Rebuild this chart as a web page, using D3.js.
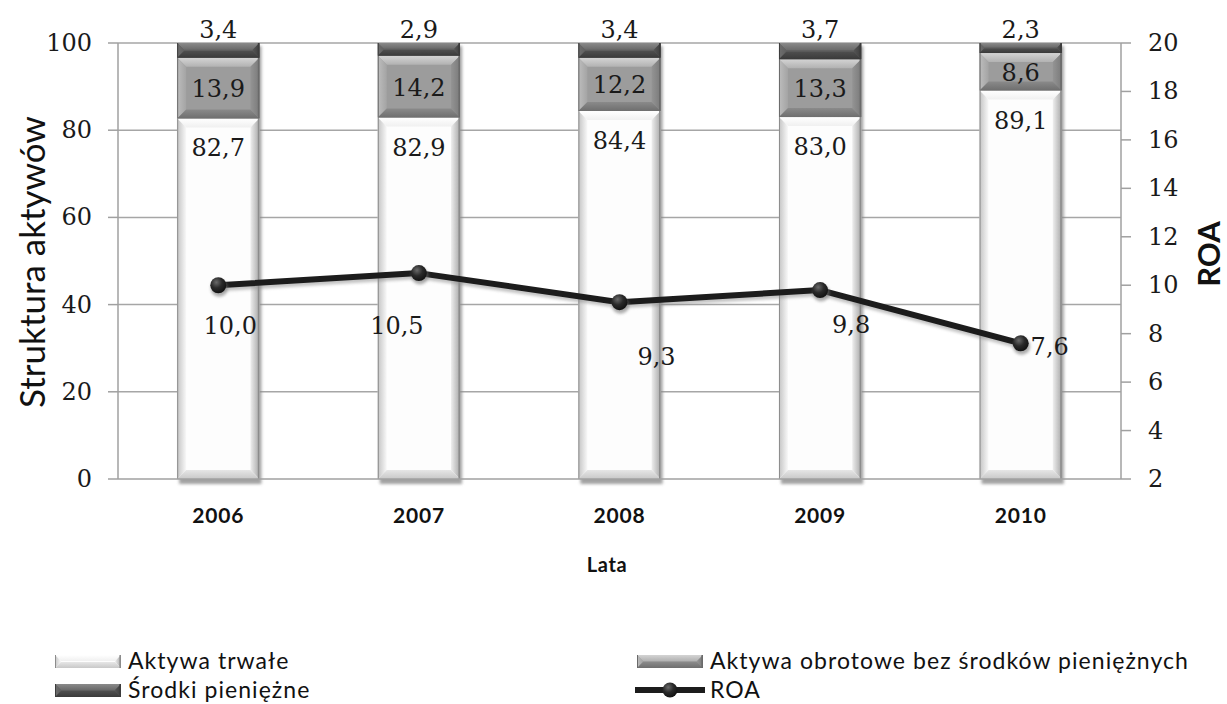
<!DOCTYPE html>
<html>
<head>
<meta charset="utf-8">
<script src="https://cdn.jsdelivr.net/npm/d3@7/dist/d3.min.js"></script>
<style>
  html, body { margin: 0; padding: 0; background: #fff; }
  svg { display: block; }
  .sans { font-family: Lato, "Open Sans", sans-serif; fill: #111; }
  .serif { font-family: "DejaVu Serif", serif; fill: #1a1a1a; }
</style>
</head>
<body>
<svg id="chart" width="1227" height="704"></svg>
<script>
// Asset structure (% of total) and ROA by year
const years = ["2006", "2007", "2008", "2009", "2010"];
const aktywaTrwale = [82.7, 82.9, 84.4, 83.0, 89.1];
const aktywaObrotowe = [13.9, 14.2, 12.2, 13.3, 8.6];
const srodkiPieniezne = [3.4, 2.9, 3.4, 3.7, 2.3];
const roa = [10.0, 10.5, 9.3, 9.8, 7.6];
const leftTicks = [0, 20, 40, 60, 80, 100];
const rightTicks = [2, 4, 6, 8, 10, 12, 14, 16, 18, 20];

const fmt = v => v.toFixed(1).replace(".", ",");

const svg = d3.select("#chart");
const plot = { left: 118, right: 1121, top: 43, bottom: 479 };

const x = d3.scaleBand().domain(years).range([plot.left, plot.right]).paddingInner(0.59).paddingOuter(0.295);
const yL = d3.scaleLinear().domain([0, 100]).range([plot.bottom, plot.top]);
const yR = d3.scaleLinear().domain([2, 20]).range([plot.bottom, plot.top]);

const defs = svg.append("defs");

// bevel gradients
function lin(id, x1, y1, x2, y2, stops) {
  const g = defs.append("linearGradient").attr("id", id)
    .attr("x1", x1).attr("y1", y1).attr("x2", x2).attr("y2", y2);
  stops.forEach(s => g.append("stop").attr("offset", s[0]).attr("stop-color", s[1]).attr("stop-opacity", s[2] == null ? 1 : s[2]));
}
const seriesStyle = [
  { key: "trwale", base: "#fdfdfd", top: ["#ffffff", "#f0f0f0"], left: ["#c4c4c4", "#f8f8f8"], right: ["#a8a8a8", "#eeeeee"], bottom: ["#c8c8c8", "#e6e6e6"], edge: "#8c8c8c" },
  { key: "obrotowe", base: "#9c9c9c", top: ["#d4d4d4", "#b2b2b2"], left: ["#bdbdbd", "#a4a4a4"], right: ["#7a7a7a", "#949494"], bottom: ["#6e6e6e", "#8a8a8a"], edge: "#6a6a6a" },
  { key: "srodki", base: "#5d5d5d", top: ["#8a8a8a", "#6a6a6a"], left: ["#6e6e6e", "#606060"], right: ["#3e3e3e", "#545454"], bottom: ["#3a3a3a", "#4e4e4e"], edge: "#3c3c3c" }
];
seriesStyle.forEach(s => {
  lin(s.key + "-top", 0, 0, 0, 1, [[0, s.top[0]], [1, s.top[1]]]);
  lin(s.key + "-left", 0, 0, 1, 0, [[0, s.left[0]], [1, s.left[1]]]);
  lin(s.key + "-right", 1, 0, 0, 0, [[0, s.right[0]], [1, s.right[1]]]);
  lin(s.key + "-bottom", 0, 1, 0, 0, [[0, s.bottom[0]], [1, s.bottom[1]]]);
});
const blur = defs.append("filter").attr("id", "soft").attr("x", "-20%").attr("y", "-20%").attr("width", "140%").attr("height", "140%");
blur.append("feGaussianBlur").attr("stdDeviation", 1.6);
const rg = defs.append("radialGradient").attr("id", "marker").attr("cx", 0.38).attr("cy", 0.32).attr("r", 0.7);
rg.append("stop").attr("offset", 0).attr("stop-color", "#6a6a6a");
rg.append("stop").attr("offset", 0.5).attr("stop-color", "#2a2a2a");
rg.append("stop").attr("offset", 1).attr("stop-color", "#111");

// gridlines
svg.append("g").selectAll("line").data(leftTicks.slice(1)).join("line")
  .attr("x1", plot.left).attr("x2", plot.right)
  .attr("y1", d => yL(d)).attr("y2", d => yL(d))
  .attr("stroke", "#a6a6a6").attr("stroke-width", 1.5);

// stacked data
const stackInput = years.map((yr, i) => ({ year: yr, trwale: aktywaTrwale[i], obrotowe: aktywaObrotowe[i], srodki: srodkiPieniezne[i] }));
const stacked = d3.stack().keys(["trwale", "obrotowe", "srodki"])(stackInput);

// bar shadows
svg.append("g").selectAll("rect").data(years).join("rect")
  .attr("x", d => x(d) + 2).attr("width", x.bandwidth())
  .attr("y", yL(100) + 3).attr("height", yL(0) - yL(100) + 2)
  .attr("fill", "#8a8a8a").attr("opacity", 0.8).attr("filter", "url(#soft)");

function bevelSegment(g, s, x0, y0, w, h) {
  const b = Math.min(9, h / 2.2);
  g.append("rect").attr("x", x0).attr("y", y0).attr("width", w).attr("height", h).attr("fill", s.base);
  const poly = (pts, fill) => g.append("polygon").attr("points", pts.map(p => p.join(",")).join(" ")).attr("fill", fill);
  poly([[x0, y0], [x0 + w, y0], [x0 + w - b, y0 + b], [x0 + b, y0 + b]], `url(#${s.key}-top)`);
  poly([[x0, y0], [x0 + b, y0 + b], [x0 + b, y0 + h - b], [x0, y0 + h]], `url(#${s.key}-left)`);
  poly([[x0 + w, y0], [x0 + w - b, y0 + b], [x0 + w - b, y0 + h - b], [x0 + w, y0 + h]], `url(#${s.key}-right)`);
  poly([[x0, y0 + h], [x0 + b, y0 + h - b], [x0 + w - b, y0 + h - b], [x0 + w, y0 + h]], `url(#${s.key}-bottom)`);
  g.append("line").attr("x1", x0 + 0.5).attr("x2", x0 + 0.5).attr("y1", y0).attr("y2", y0 + h).attr("stroke", s.edge).attr("stroke-width", 1);
  g.append("line").attr("x1", x0 + w - 0.8).attr("x2", x0 + w - 0.8).attr("y1", y0).attr("y2", y0 + h).attr("stroke", s.edge).attr("stroke-width", 1.6);
}

const bars = svg.append("g");
stacked.forEach((layer, li) => {
  const s = seriesStyle[li];
  layer.forEach(d => {
    const x0 = x(d.data.year), w = x.bandwidth();
    const yTop = yL(d[1]), yBot = yL(d[0]);
    bevelSegment(bars.append("g"), s, x0, yTop, w, yBot - yTop);
  });
});

// segment labels
const lab = svg.append("g").attr("class", "serif").attr("font-size", 24).attr("text-anchor", "middle");
stacked.forEach((layer, li) => {
  layer.forEach(d => {
    const cx = x(d.data.year) + x.bandwidth() / 2;
    const val = d[1] - d[0];
    let yPos;
    if (li === 0) yPos = yL(d[1]) + 38;          // inside end
    else if (li === 1) yPos = (yL(d[0]) + yL(d[1])) / 2 + 9; // centered
    else yPos = yL(d[1]) - 5;                    // above the bar
    lab.append("text").attr("x", cx).attr("y", yPos).text(fmt(val));
  });
});

// left axis
const axL = svg.append("g");
axL.append("line").attr("x1", plot.left).attr("x2", plot.left).attr("y1", plot.top).attr("y2", plot.bottom).attr("stroke", "#a0a0a0").attr("stroke-width", 1.5);
axL.selectAll(".t").data(leftTicks).join("line")
  .attr("x1", plot.left - 10).attr("x2", plot.left).attr("y1", d => yL(d)).attr("y2", d => yL(d))
  .attr("stroke", "#a0a0a0").attr("stroke-width", 1.5);
axL.selectAll("text").data(leftTicks).join("text")
  .attr("class", "serif").attr("font-size", 24).attr("text-anchor", "end")
  .attr("x", plot.left - 26).attr("y", d => yL(d) + 8).text(d => d);

// right axis
const axR = svg.append("g");
axR.append("line").attr("x1", plot.right).attr("x2", plot.right).attr("y1", plot.top).attr("y2", plot.bottom).attr("stroke", "#a0a0a0").attr("stroke-width", 1.5);
axR.selectAll(".t").data(rightTicks).join("line")
  .attr("x1", plot.right).attr("x2", plot.right + 10).attr("y1", d => yR(d)).attr("y2", d => yR(d))
  .attr("stroke", "#a0a0a0").attr("stroke-width", 1.5);
axR.selectAll("text").data(rightTicks).join("text")
  .attr("class", "serif").attr("font-size", 24).attr("text-anchor", "start")
  .attr("x", plot.right + 27).attr("y", d => yR(d) + 8).text(d => d);

// x axis baseline and year labels
svg.append("line").attr("x1", plot.left).attr("x2", plot.right).attr("y1", plot.bottom).attr("y2", plot.bottom).attr("stroke", "#a0a0a0").attr("stroke-width", 1.5);
svg.append("g").selectAll("text").data(years).join("text")
  .attr("class", "sans").attr("font-size", 21).attr("font-weight", "bold").attr("letter-spacing", 0.8)
  .attr("text-anchor", "middle").attr("x", d => x(d) + x.bandwidth() / 2).attr("y", 523).text(d => d);

// axis titles
svg.append("text").attr("class", "sans").attr("font-size", 20).attr("font-weight", "bold").attr("letter-spacing", 0.6)
  .attr("text-anchor", "middle").attr("x", 607).attr("y", 572).text("Lata");
svg.append("text").attr("class", "sans").attr("font-size", 35)
  .attr("text-anchor", "middle").attr("transform", "translate(45,262) rotate(-90)").text("Struktura aktywów");
svg.append("text").attr("class", "sans").attr("font-size", 31).attr("font-weight", "bold")
  .attr("text-anchor", "middle").attr("transform", "translate(1220,254) rotate(-90)").text("ROA");

// ROA line
const cxOf = i => x(years[i]) + x.bandwidth() / 2;
const line = d3.line().x((d, i) => cxOf(i)).y(d => yR(d));
svg.append("path").datum(roa).attr("d", line).attr("fill", "none")
  .attr("stroke", "#888").attr("stroke-width", 6).attr("opacity", 0.5).attr("transform", "translate(1,3)").attr("filter", "url(#soft)");
svg.append("path").datum(roa).attr("d", line).attr("fill", "none")
  .attr("stroke", "#1c1c1c").attr("stroke-width", 6).attr("stroke-linejoin", "round");
svg.append("g").selectAll("circle.s").data(roa).join("circle")
  .attr("cx", (d, i) => cxOf(i) + 1).attr("cy", d => yR(d) + 3).attr("r", 8.5)
  .attr("fill", "#777").attr("opacity", 0.6).attr("filter", "url(#soft)");
svg.append("g").selectAll("circle.m").data(roa).join("circle")
  .attr("cx", (d, i) => cxOf(i)).attr("cy", d => yR(d)).attr("r", 8)
  .attr("fill", "url(#marker)");

// ROA value labels, nudged off the line
const roaLabelShift = [[12, 49], [-22, 61], [37, 63], [31, 43], [29, 12]];
svg.append("g").selectAll("text").data(roa).join("text")
  .attr("class", "serif").attr("font-size", 24).attr("text-anchor", "middle")
  .attr("x", (d, i) => cxOf(i) + roaLabelShift[i][0]).attr("y", (d, i) => yR(d) + roaLabelShift[i][1]).text(d => fmt(d));

// legend
const legend = svg.append("g");
const legendItems = [
  { name: "Aktywa trwałe", style: seriesStyle[0], x: 55, y: 661 },
  { name: "Aktywa obrotowe bez środków pieniężnych", style: seriesStyle[1], x: 637, y: 661 },
  { name: "Środki pieniężne", style: seriesStyle[2], x: 55, y: 690 },
  { name: "ROA", style: null, x: 637, y: 690 }
];
legendItems.forEach(it => {
  const g = legend.append("g");
  if (it.style) {
    bevelSegment(g, it.style, it.x, it.y - 6, 66, 13);
  } else {
    g.append("line").attr("x1", it.x - 2).attr("x2", it.x + 68).attr("y1", it.y).attr("y2", it.y).attr("stroke", "#1c1c1c").attr("stroke-width", 6);
    g.append("circle").attr("cx", it.x + 33).attr("cy", it.y).attr("r", 7.5).attr("fill", "url(#marker)");
  }
  g.append("text").attr("class", "sans").attr("font-size", 23).attr("letter-spacing", 1.05)
    .attr("x", it.x + 73).attr("y", it.y + 8).text(it.name);
});
</script>
</body>
</html>
